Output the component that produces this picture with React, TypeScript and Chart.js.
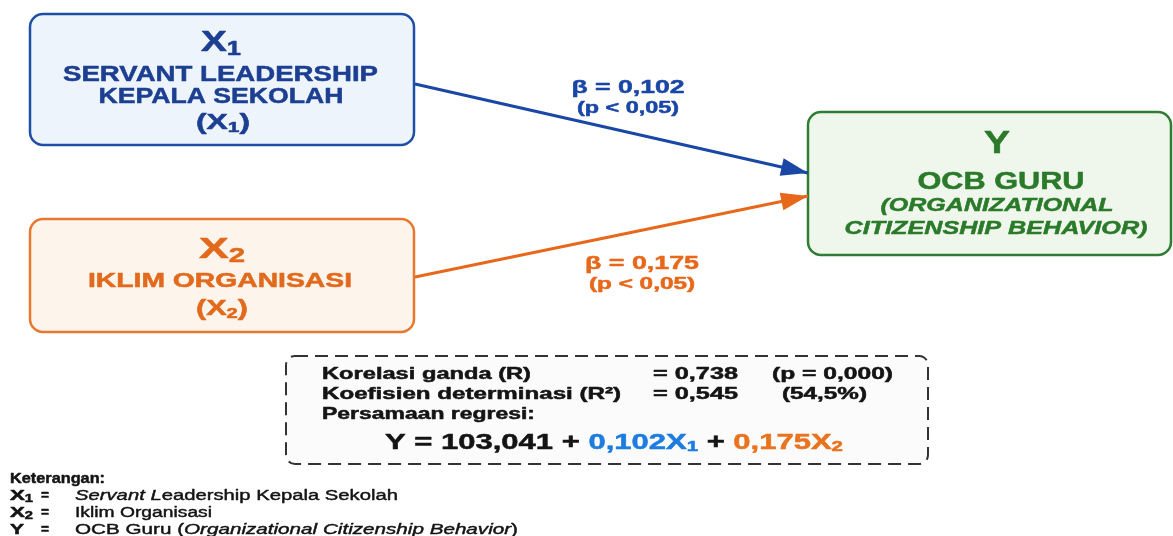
import React, { useEffect, useRef } from "react";
import { Chart, registerables } from "chart.js";

Chart.register(...registerables);

// ---------------- DATA ----------------
const variableCodes = ["X", "X", "Y"];
const variableSubs = ["1", "2", ""];
const x1Title = ["SERVANT LEADERSHIP", "KEPALA SEKOLAH"];
const x2Title = ["IKLIM ORGANISASI"];
const yTitle = ["OCB GURU"];
const ySubtitle = ["(ORGANIZATIONAL", "CITIZENSHIP BEHAVIOR)"];
const betaValues = [0.102, 0.175];
const betaP = ["(p < 0,05)", "(p < 0,05)"];
const statLabels = ["Korelasi ganda (R)", "Koefisien determinasi (R²)", "Persamaan regresi:"];
const statValues = [0.738, 0.545];
const statNotes = ["(p = 0,000)", "(54,5%)"];
const intercept = 103.041;
const legendTitle = "Keterangan:";
const legendCodes = ["X", "X", "Y"];
const legendSubs = ["1", "2", ""];

// ---------------- LAYOUT / STYLE ----------------
const W = 1173;
const H = 536;
const FONT = '"Liberation Sans", Arial, Helvetica, sans-serif';
const C = {
  blueBorder: "#1f4ea6",
  blueFill: "#eef4fc",
  blueText: "#1c3f92",
  blueArrow: "#1a47a6",
  orangeBorder: "#e8782d",
  orangeFill: "#fdf4ec",
  orangeText: "#e26a1c",
  orangeArrow: "#e8681b",
  greenBorder: "#2f7d32",
  greenFill: "#eff7ed",
  greenText: "#2a7a2a",
  eqBlue: "#1e7ce0",
  eqOrange: "#ea731f",
  dark: "#141414",
};
const boxes = {
  x1: { x: 30, y: 14, w: 384, h: 131, fill: C.blueFill, stroke: C.blueBorder },
  x2: { x: 30, y: 219, w: 384, h: 113, fill: C.orangeFill, stroke: C.orangeBorder },
  y: { x: 808, y: 112, w: 363, h: 143, fill: C.greenFill, stroke: C.greenBorder },
};
const statsBox = { x: 286, y: 356, w: 642, h: 108 };
const arrowRows = [
  { fromY: 84, toY: 173, color: C.blueArrow },
  { fromY: 277, toY: 196, color: C.orangeArrow },
];

type Seg = { t: string; size: number; color: string; weight?: string; italic?: boolean; sub?: boolean; medium?: boolean };

function fmt(v: number, d = 3) {
  return v.toFixed(d).replace(".", ",");
}

function drawRich(
  ctx: CanvasRenderingContext2D,
  segs: Seg[],
  x: number,
  y: number,
  align: "left" | "center",
  width?: number
) {
  let total = 0;
  const m = segs.map((s) => {
    const fs = s.sub ? s.size * 0.66 : s.size;
    const font = `${s.italic ? "italic " : ""}${s.weight || "bold"} ${fs}px ${FONT}`;
    ctx.font = font;
    const w = ctx.measureText(s.t).width;
    total += w;
    return { ...s, fs, font, w };
  });
  const sx = width ? width / total : 1;
  const start = align === "center" ? x - (total * sx) / 2 : x;
  ctx.save();
  ctx.translate(start, y);
  ctx.scale(sx, 1);
  ctx.textBaseline = "alphabetic";
  ctx.textAlign = "left";
  ctx.lineJoin = "round";
  let cx = 0;
  for (const s of m) {
    ctx.font = s.font;
    ctx.fillStyle = s.color;
    const dy = s.sub ? s.size * 0.13 : 0;
    ctx.fillText(s.t, cx, dy);
    const isBold = !s.weight || s.weight === "bold";
    if (s.medium || isBold) {
      ctx.lineWidth = s.medium ? 0.45 : 0.5;
      ctx.strokeStyle = s.color;
      ctx.strokeText(s.t, cx, dy);
    }
    cx += s.w;
  }
  ctx.restore();
}

const diagramPlugin = {
  id: "diagram",
  beforeDatasetsDraw(chart: any) {
    const ctx: CanvasRenderingContext2D = chart.ctx;
    const sx = chart.scales.x;
    const sy = chart.scales.y;
    const px = (v: number) => sx.getPixelForValue(v);
    const py = (v: number) => sy.getPixelForValue(v);
    ctx.save();
    Object.values(boxes).forEach((b: any) => {
      ctx.beginPath();
      ctx.roundRect(px(b.x), py(b.y), px(b.x + b.w) - px(b.x), py(b.y + b.h) - py(b.y), 13);
      ctx.fillStyle = b.fill;
      ctx.fill();
      ctx.lineWidth = 2.5;
      ctx.strokeStyle = b.stroke;
      ctx.stroke();
    });
    // stats box
    ctx.beginPath();
    ctx.roundRect(px(statsBox.x), py(statsBox.y), px(statsBox.x + statsBox.w) - px(statsBox.x), py(statsBox.y + statsBox.h) - py(statsBox.y), 9);
    ctx.fillStyle = "#fbfbfb";
    ctx.fill();
    ctx.setLineDash([13, 7]);
    ctx.lineWidth = 2;
    ctx.strokeStyle = "#333333";
    ctx.stroke();
    ctx.setLineDash([]);
    ctx.restore();
  },
  afterDatasetsDraw(chart: any) {
    const ctx: CanvasRenderingContext2D = chart.ctx;
    const sx = chart.scales.x;
    const sy = chart.scales.y;
    const px = (v: number) => sx.getPixelForValue(v);
    const py = (v: number) => sy.getPixelForValue(v);

    // arrowheads
    chart.data.datasets.forEach((ds: any) => {
      const d = ds.data;
      const a = d[d.length - 2];
      const b = d[d.length - 1];
      const x0 = px(a.x), y0 = py(a.y), x1 = px(b.x), y1 = py(b.y);
      const ang = Math.atan2(y1 - y0, x1 - x0);
      const L = 27, Hh = 9;
      ctx.save();
      ctx.translate(x1, y1);
      ctx.rotate(ang);
      ctx.beginPath();
      ctx.moveTo(0, 0);
      ctx.lineTo(-L, -Hh);
      ctx.lineTo(-L, Hh);
      ctx.closePath();
      ctx.fillStyle = ds.borderColor;
      ctx.fill();
      ctx.restore();
    });

    // X1 box
    drawRich(ctx, [
      { t: variableCodes[0], size: 30, color: C.blueText },
      { t: variableSubs[0], size: 30, color: C.blueText, sub: true },
    ], px(221), py(51), "center", 40);
    drawRich(ctx, [{ t: x1Title[0], size: 22, color: C.blueText }], px(220.5), py(80.5), "center", 315);
    drawRich(ctx, [{ t: x1Title[1], size: 22, color: C.blueText }], px(221), py(102.5), "center", 245);
    drawRich(ctx, [
      { t: "(" + variableCodes[0], size: 22, color: C.blueText },
      { t: variableSubs[0], size: 22, color: C.blueText, sub: true },
      { t: ")", size: 22, color: C.blueText },
    ], px(223), py(129), "center", 54);

    // X2 box
    drawRich(ctx, [
      { t: variableCodes[1], size: 30, color: C.orangeText },
      { t: variableSubs[1], size: 30, color: C.orangeText, sub: true },
    ], px(222), py(258), "center", 46);
    drawRich(ctx, [{ t: x2Title[0], size: 20, color: C.orangeText }], px(220), py(287), "center", 264);
    drawRich(ctx, [
      { t: "(" + variableCodes[1], size: 22, color: C.orangeText },
      { t: variableSubs[1], size: 22, color: C.orangeText, sub: true },
      { t: ")", size: 22, color: C.orangeText },
    ], px(222), py(315), "center", 52);

    // Y box
    drawRich(ctx, [{ t: variableCodes[2], size: 32, color: C.greenText }], px(997), py(153), "center", 26);
    drawRich(ctx, [{ t: yTitle[0], size: 24, color: C.greenText }], px(1001), py(189), "center", 167);
    drawRich(ctx, [{ t: ySubtitle[0], size: 19, color: C.greenText, italic: true }], px(997), py(211), "center", 233);
    drawRich(ctx, [{ t: ySubtitle[1], size: 19, color: C.greenText, italic: true }], px(996), py(234), "center", 303);

    // Beta labels
    drawRich(ctx, [{ t: "β = " + fmt(betaValues[0]), size: 19, color: C.blueArrow }], px(628), py(92.5), "center", 113);
    drawRich(ctx, [{ t: betaP[0], size: 16, color: C.blueArrow }], px(628), py(112.5), "center", 102);
    drawRich(ctx, [{ t: "β = " + fmt(betaValues[1]), size: 19, color: C.orangeArrow }], px(642), py(269), "center", 114);
    drawRich(ctx, [{ t: betaP[1], size: 16, color: C.orangeArrow }], px(642), py(289), "center", 106);

    // Stats
    const fs = 16.5;
    drawRich(ctx, [{ t: statLabels[0], size: fs, color: C.dark }], px(322), py(378.5), "left", 209);
    drawRich(ctx, [{ t: "= " + fmt(statValues[0]), size: fs, color: C.dark }], px(653), py(378.5), "left", 85);
    drawRich(ctx, [{ t: statNotes[0], size: fs, color: C.dark }], px(772), py(378.5), "left", 121);
    drawRich(ctx, [{ t: statLabels[1], size: fs, color: C.dark }], px(322), py(398.5), "left", 299);
    drawRich(ctx, [{ t: "= " + fmt(statValues[1]), size: fs, color: C.dark }], px(653), py(398.5), "left", 85);
    drawRich(ctx, [{ t: statNotes[1], size: fs, color: C.dark }], px(782), py(398.5), "left", 85);
    drawRich(ctx, [{ t: statLabels[2], size: fs, color: C.dark }], px(322), py(418.5), "left", 213);
    drawRich(ctx, [
      { t: "Y = " + fmt(intercept) + " + ", size: 22, color: C.dark },
      { t: fmt(betaValues[0]) + "X", size: 22, color: C.eqBlue },
      { t: "1", size: 22, color: C.eqBlue, sub: true },
      { t: " + ", size: 22, color: C.dark },
      { t: fmt(betaValues[1]) + "X", size: 22, color: C.eqOrange },
      { t: "2", size: 22, color: C.eqOrange, sub: true },
    ], px(385), py(448.5), "left", 458);

    // Legend
    const lf = 15.5;
    drawRich(ctx, [{ t: legendTitle, size: lf, color: C.dark }], px(10), py(483), "left", 95);
    const rowsY = [500, 517, 534];
    const descs: Seg[][] = [
      [
        { t: "Servant L", size: lf, color: C.dark, weight: "normal", italic: true, medium: true },
        { t: "eadership Kepala Sekolah", size: lf, color: C.dark, weight: "normal", medium: true },
      ],
      [{ t: "Iklim Organisasi", size: lf, color: C.dark, weight: "normal", medium: true }],
      [
        { t: "OCB Guru (", size: lf, color: C.dark, weight: "normal", medium: true },
        { t: "Organizational Citizenship Behavior", size: lf, color: C.dark, weight: "normal", italic: true, medium: true },
        { t: ")", size: lf, color: C.dark, weight: "normal", medium: true },
      ],
    ];
    const descW = [323, 137, 443];
    legendCodes.forEach((code, i) => {
      const segs: Seg[] = [{ t: code, size: lf, color: C.dark }];
      if (legendSubs[i]) segs.push({ t: legendSubs[i], size: lf, color: C.dark, sub: true });
      drawRich(ctx, segs, px(10), py(rowsY[i]), "left", legendSubs[i] ? 23 : 14);
      drawRich(ctx, [{ t: "=", size: lf, color: C.dark }], px(41), py(rowsY[i]), "left", 8);
      drawRich(ctx, descs[i], px(75), py(rowsY[i]), "left", descW[i]);
    });
  },
};

export default function App() {
  const ref = useRef<HTMLCanvasElement | null>(null);
  useEffect(() => {
    document.body.style.margin = "0";
    if (!ref.current) return;
    const datasets = arrowRows.map((a, i) => {
      const from = i === 0 ? boxes.x1 : boxes.x2;
      return {
        label: "β " + fmt(betaValues[i]),
        data: [
          { x: from.x + from.w + 1, y: a.fromY },
          { x: boxes.y.x, y: a.toY },
        ],
        showLine: true,
        borderColor: a.color,
        backgroundColor: a.color,
        borderWidth: 3,
        pointRadius: 0,
      };
    });
    const chart = new Chart(ref.current, {
      type: "scatter",
      data: { datasets },
      options: {
        animation: false,
        responsive: false,
        layout: { padding: 0 },
        plugins: { legend: { display: false }, tooltip: { enabled: false } },
        scales: {
          x: { type: "linear", min: 0, max: W, display: false },
          y: { type: "linear", min: 0, max: H, reverse: true, display: false },
        },
      },
      plugins: [diagramPlugin],
    } as any);
    return () => chart.destroy();
  }, []);
  return (
    <div style={{ width: W, height: H, background: "#ffffff" }}>
      <canvas ref={ref} width={W} height={H} style={{ display: "block" }} />
    </div>
  );
}
